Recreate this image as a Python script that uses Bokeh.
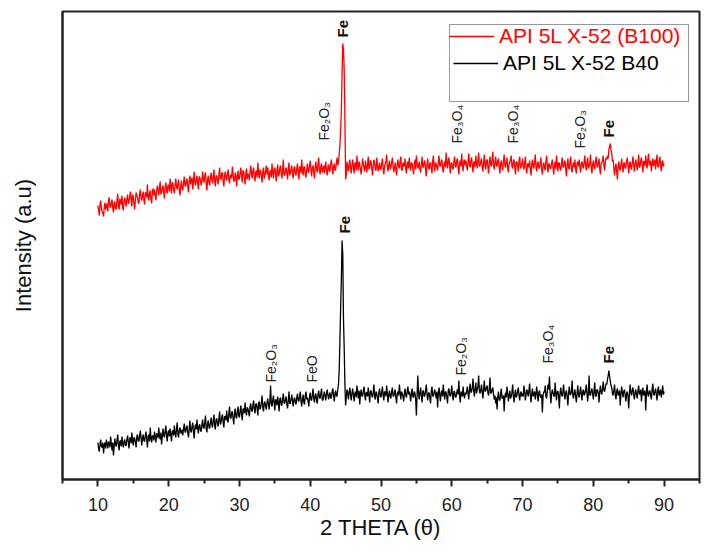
import numpy as np
from math import pi
from bokeh.plotting import figure
from bokeh.models import ColumnDataSource, FixedTicker, Legend, LegendItem
from bokeh.core.properties import value
from bokeh.embed import file_html
from bokeh.resources import INLINE

# 2-theta sampling grid (degrees), 0.1 deg steps from 10 to 90
two_theta = np.linspace(10, 90, 801)

# API 5L X-52 (B100) intensity (a.u.) (one row = 4 deg)
b100 = [
    274,269,264,275,279,271,268,266,263,272,277,270,273,276,268,279,282,273,272,277,280,271,267,276,278,270,271,279,286,273,270,281,278,275,284,272,269,278,282,276,
    273,281,285,276,277,283,288,279,273,285,283,276,270,280,287,284,282,277,276,286,290,281,279,284,288,279,275,287,286,282,295,283,279,286,289,280,276,288,291,284,
    290,284,279,288,294,290,284,292,298,285,287,291,294,287,281,293,297,289,286,295,293,288,301,292,286,297,296,290,286,294,301,293,290,296,300,289,284,293,299,291,
    289,297,303,294,293,299,301,293,287,298,304,295,299,302,290,298,308,297,294,300,304,296,290,303,302,298,294,301,308,299,297,304,307,296,289,300,304,297,294,302,
    307,300,296,304,310,298,293,303,304,299,295,305,312,301,300,306,307,298,293,304,308,302,299,306,310,300,296,303,305,301,313,305,298,299,307,304,293,302,309,300,
    301,307,312,303,297,309,308,302,295,306,311,300,306,304,299,308,314,305,301,309,312,304,298,307,309,302,317,306,301,310,308,303,297,308,312,301,304,309,314,305,
    312,304,299,308,309,302,316,307,301,310,312,305,298,309,315,303,305,311,314,306,301,310,320,304,305,309,312,306,300,311,317,304,307,310,314,305,301,311,313,306,
    304,311,316,307,300,312,313,306,320,309,304,313,312,305,302,310,316,308,307,314,319,310,303,312,314,307,301,313,318,310,307,315,322,309,305,313,316,307,309,314,
    306,313,318,309,304,312,315,308,309,316,320,311,305,313,316,309,310,317,322,314,318,326,335,350,370,405,436,430,410,360,300,305,318,312,308,316,320,311,306,315,
    320,312,306,316,317,309,324,314,309,318,315,310,305,313,321,316,311,308,319,313,307,315,323,310,312,319,318,311,304,314,320,316,310,309,322,315,308,312,317,310,
    310,316,321,311,305,313,316,318,325,312,308,315,319,310,312,317,322,314,307,312,317,309,304,316,320,313,311,318,323,310,309,317,315,313,321,310,306,316,318,311,
    322,313,309,317,316,311,305,314,320,310,324,316,311,314,318,310,307,315,323,313,312,317,319,309,303,315,321,312,310,316,317,311,306,318,324,313,308,317,315,312,
    309,317,324,314,313,318,320,311,307,315,318,312,327,316,311,319,322,313,306,316,317,312,310,318,323,314,312,319,321,311,305,316,319,313,326,315,308,318,320,314,
    319,313,309,318,326,315,312,319,322,314,307,317,318,312,324,316,311,320,327,313,314,318,321,312,308,317,325,314,310,319,320,313,306,317,323,315,313,320,328,314,
    310,317,323,314,313,319,321,312,306,316,319,313,309,318,325,314,312,317,322,311,307,316,317,320,324,313,311,318,320,312,305,317,318,314,308,319,323,311,313,316,
    321,313,310,317,323,311,306,315,316,312,319,310,304,316,320,313,311,318,325,312,308,316,318,311,312,317,322,310,305,314,317,312,309,318,324,313,307,316,315,311,
    311,316,320,312,305,314,318,310,324,315,308,317,316,311,309,316,322,313,312,317,319,310,303,315,321,312,310,318,323,311,307,314,317,312,320,310,306,316,318,313,
    320,312,307,316,318,313,311,318,324,314,309,317,322,311,313,316,325,312,306,315,319,313,310,318,323,314,312,317,321,311,305,316,317,319,324,314,309,318,322,320,
    324,321,330,333,336,329,326,318,320,311,304,312,316,308,300,313,318,311,309,315,321,313,307,316,317,311,312,318,322,314,306,315,318,312,310,317,323,314,308,316,
    320,314,309,317,325,312,313,319,322,315,307,318,318,313,324,317,311,320,326,315,314,319,308,316,321,313,317,320,310,318,325,314,312,319,323,315,308,317,319,313,
    316,
]

# API 5L X-52 B40 intensity (a.u.) (one row = 4 deg)
b40 = [
    37,31,28,35,40,33,32,37,26,34,37,31,40,35,31,38,36,32,43,36,29,37,24,33,41,35,33,39,45,34,29,38,39,33,43,36,32,38,40,34,
    34,40,44,37,31,41,42,36,47,39,34,42,41,37,32,43,45,39,38,44,49,41,34,42,45,39,38,44,48,40,32,43,45,38,52,41,37,44,43,39,
    48,42,37,46,45,41,52,44,40,47,35,43,51,45,42,48,54,44,38,47,49,43,51,45,38,48,49,44,54,46,42,50,57,45,42,49,52,47,46,50,
    44,51,56,48,47,52,54,47,42,50,59,49,47,53,57,48,41,52,55,50,60,51,46,54,55,49,48,55,60,52,51,57,64,51,47,56,59,52,51,57,
    62,55,52,59,65,54,50,60,61,56,53,61,68,55,57,62,65,57,52,63,63,59,69,60,57,66,73,62,61,67,68,61,55,66,71,63,61,68,73,64,
    62,69,74,65,59,70,71,66,77,68,64,72,71,67,63,73,76,69,68,74,79,70,66,75,76,71,64,76,78,70,72,77,84,72,68,76,78,73,70,77,
    81,75,70,78,94,76,73,79,84,77,69,80,79,74,83,77,68,80,82,75,74,81,86,77,76,80,83,75,71,79,88,76,76,81,85,78,73,80,82,77,
    75,82,86,79,78,83,88,78,73,81,85,77,75,84,88,80,82,78,73,83,87,80,79,85,91,81,77,84,86,79,76,85,89,82,81,86,91,80,79,84,
    88,83,79,86,90,84,80,85,87,81,82,88,91,84,78,86,89,83,84,90,96,110,140,172,200,239,225,160,132,95,74,83,90,86,80,88,92,84,79,87,
    91,84,78,86,88,82,94,87,81,89,75,86,90,84,83,88,93,85,79,87,87,83,92,85,77,88,89,84,82,87,95,83,80,88,86,82,76,87,91,84,
    82,87,93,84,79,88,87,83,94,86,77,85,89,83,81,88,92,84,83,87,90,82,76,86,88,84,95,87,80,88,86,83,78,86,91,84,82,88,93,85,
    88,84,78,87,91,83,82,88,86,80,64,85,104,86,80,87,92,84,77,88,89,83,84,89,95,85,79,86,87,82,76,88,93,84,83,87,90,85,81,88,
    72,86,92,84,78,87,89,83,95,86,80,88,87,82,76,89,91,85,83,87,94,84,79,88,88,83,82,87,90,85,99,84,77,88,86,83,93,85,81,87,
    85,88,93,86,80,90,96,87,88,92,101,88,83,91,97,86,90,93,104,89,86,90,95,87,81,91,99,88,89,92,94,87,84,91,102,86,87,90,92,85,
    80,84,76,82,70,83,88,80,79,85,91,81,82,84,68,83,87,82,93,86,78,84,89,81,83,87,95,83,77,85,90,82,84,88,92,84,79,86,88,83,
    86,83,94,88,79,85,90,87,83,89,96,84,77,86,91,83,85,88,80,86,93,84,78,87,89,83,82,85,67,84,88,87,94,83,81,88,95,90,103,86,
    76,85,90,87,84,83,97,86,79,88,88,84,71,87,92,85,83,88,95,84,80,87,89,83,74,86,93,85,85,88,99,84,81,87,90,83,77,86,94,85,
    82,87,93,85,79,88,90,84,86,89,95,86,78,87,104,85,84,88,91,86,80,89,97,84,83,90,89,86,77,88,94,87,85,91,98,89,88,92,96,95,
    100,104,109,103,98,94,92,86,84,89,95,85,80,88,91,84,86,89,74,85,93,87,82,88,90,84,78,86,88,83,71,86,95,87,84,89,92,85,80,87,
    90,85,81,88,94,86,85,90,78,87,92,84,86,89,69,86,95,85,83,88,89,84,80,90,96,86,84,88,91,85,79,89,93,84,86,90,82,87,94,85,
    88,
]

assert len(b100) == len(two_theta) and len(b40) == len(two_theta), (len(b100), len(b40))

series_names = ["API 5L X-52 (B100)", "API 5L X-52 B40"]

# phase annotations: 2-theta position, intensity where label starts, text
label_x = [41.9, 44.55, 60.8, 68.7, 78.1, 82.2, 34.4, 40.3, 44.8, 61.3, 73.6, 82.1]
label_y = [339, 442, 336, 336, 331, 342, 97, 97, 246, 104, 116, 116]
label_text = ["Fe₂O₃", "Fe", "Fe₃O₄", "Fe₃O₄", "Fe₂O₃", "Fe",
              "Fe₂O₃", "FeO", "Fe", "Fe₂O₃", "Fe₃O₄", "Fe"]

x_ticks = [10, 20, 30, 40, 50, 60, 70, 80, 90]
x_minor = [5, 15, 25, 35, 45, 55, 65, 75, 85, 95]

FONT = "Liberation Sans"

p = figure(width=704, height=552, x_range=(5, 95), y_range=(0, 468),
           output_backend="svg", toolbar_location=None,
           min_border_left=62, min_border_right=5, min_border_top=11,
           min_border_bottom=73)
p.xgrid.visible = False
p.ygrid.visible = False
p.background_fill_color = "white"
p.border_fill_color = "white"
p.outline_line_color = "#222222"
p.outline_line_width = 2

src = ColumnDataSource(dict(x=two_theta, b100=b100, b40=b40))
r_red = p.line("x", "b100", source=src, line_color="#ff0000", line_width=1.3)
r_blk = p.line("x", "b40", source=src, line_color="#000000", line_width=1.3)
r_blank = p.line(x=[], y=[], line_alpha=0)

# labels
bold_idx = [i for i, t in enumerate(label_text) if t == "Fe"]
norm_idx = [i for i, t in enumerate(label_text) if t != "Fe"]
src_b = ColumnDataSource(dict(x=[label_x[i] for i in bold_idx],
                              y=[label_y[i] for i in bold_idx],
                              t=[label_text[i] for i in bold_idx]))
src_n = ColumnDataSource(dict(x=[label_x[i] for i in norm_idx],
                              y=[label_y[i] for i in norm_idx],
                              t=[label_text[i] for i in norm_idx]))
p.text("x", "y", text="t", source=src_b, angle=pi / 2, text_align="left",
       text_baseline="middle", text_font=value(FONT), text_font_size="15px",
       text_font_style="bold", text_color="#111111")
p.text("x", "y", text="t", source=src_n, angle=pi / 2, text_align="left",
       text_baseline="middle", text_font=value(FONT), text_font_size="14px",
       text_color="#222222")

# x axis
xa = p.xaxis[0]
xa.ticker = FixedTicker(ticks=x_ticks, minor_ticks=x_minor)
xa.axis_label = "2 THETA (θ)"
xa.axis_label_text_font = FONT
xa.axis_label_text_font_style = "normal"
xa.axis_label_text_font_size = "22px"
xa.axis_label_text_color = "#111111"
xa.axis_label_standoff = 1
xa.major_label_text_font = FONT
xa.major_label_text_font_size = "18px"
xa.major_label_text_color = "#222222"
xa.major_label_standoff = 11
xa.axis_line_width = 2
xa.axis_line_color = "#222222"
xa.major_tick_in = 0
xa.major_tick_out = 7
xa.minor_tick_in = 0
xa.minor_tick_out = 4
xa.major_tick_line_width = 2
xa.minor_tick_line_width = 2
xa.major_tick_line_color = "#222222"
xa.minor_tick_line_color = "#222222"

# y axis (no ticks)
ya = p.yaxis[0]
ya.ticker = FixedTicker(ticks=[])
ya.major_tick_out = 0
ya.major_tick_in = 0
ya.minor_tick_out = 0
ya.minor_tick_in = 0
ya.axis_label = "Intensity (a.u)"
ya.axis_label_text_font = FONT
ya.axis_label_text_font_style = "normal"
ya.axis_label_text_font_size = "22px"
ya.axis_label_text_color = "#111111"
ya.axis_label_standoff = 27
ya.axis_line_width = 2
ya.axis_line_color = "#222222"

# legend: boxed legend with black text + overlay for the red entry
leg_common = dict(glyph_width=45, glyph_height=20, label_height=20,
                  label_standoff=5, spacing=3, padding=3, margin=0,
                  label_text_font=FONT, label_text_font_size="21px")
leg_box = Legend(items=[LegendItem(label=" ", renderers=[r_blank]),
                        LegendItem(label=series_names[1], renderers=[r_blk]),
                        LegendItem(label=" ", renderers=[r_blank])],
                 location=(387, 377), label_width=182,
                 label_text_color="#000000",
                 border_line_color="#333333", border_line_width=1.5,
                 background_fill_color="white", background_fill_alpha=1,
                 **leg_common)
leg_red = Legend(items=[LegendItem(label=series_names[0], renderers=[r_red])],
                 location=(387, 431), label_width=182,
                 label_text_color="#ff0000",
                 border_line_color=None, background_fill_alpha=0,
                 **leg_common)
p.add_layout(leg_box)
p.add_layout(leg_red)

open("out.html", "w").write(file_html(p, INLINE))
